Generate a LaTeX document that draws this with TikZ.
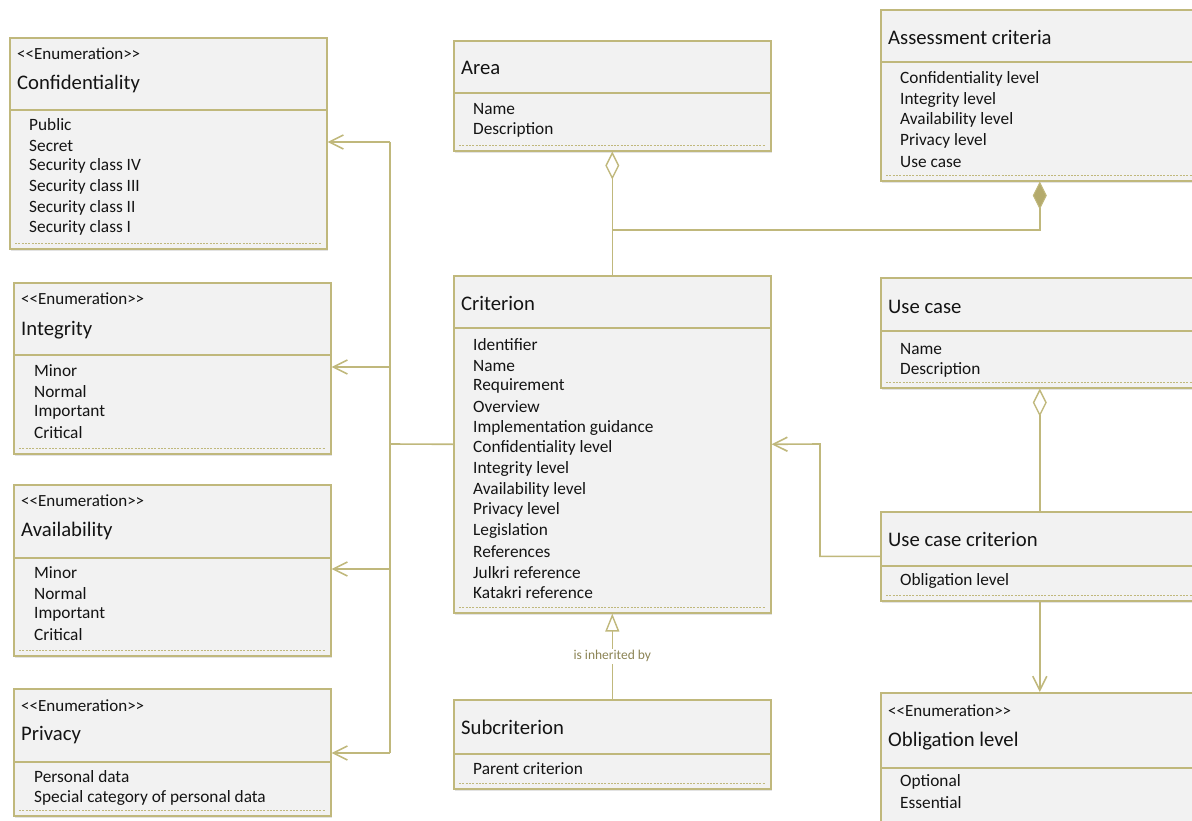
\documentclass[tikz,border=0pt]{standalone}
\usepackage{fontspec}
\setmainfont{Carlito}
\usetikzlibrary{arrows.meta,shadows,calc}
\definecolor{olive}{RGB}{192,184,124}
\definecolor{olivedark}{RGB}{180,170,108}
\definecolor{boxfill}{RGB}{242,242,242}
\definecolor{txt}{RGB}{20,20,20}
\definecolor{lbltxt}{RGB}{140,132,85}
\tikzset{
  cls/.style={draw=olive, line width=1.6pt, fill=boxfill, inner sep=0pt,
    drop shadow={opacity=0.22, shadow xshift=1.5pt, shadow yshift=-2.5pt}},
  bord/.style={draw=olive, line width=1.6pt},
  dsh/.style={draw=olive, line width=1.2pt, dash pattern=on 2pt off 1.3pt},
  ttl/.style={anchor=west, inner sep=0pt, text=txt, font=\fontsize{20.7}{22}\selectfont},
  ster/.style={anchor=west, inner sep=0pt, text=txt, font=\fontsize{17}{19}\selectfont},
  itm/.style={anchor=west, inner sep=0pt, text=txt, font=\fontsize{17.3}{19}\selectfont},
  conn/.style={draw=olive, line width=1.6pt},
  assoc/.style={conn, -{Straight Barb[length=14pt,width=14pt,line width=1.6pt]}},
  lbl/.style={fill=white, inner sep=2pt, text=lbltxt, font=\fontsize{13.5}{15}\selectfont}
}
\newcommand{\enumster}{{<}{<}Enumeration{>}{>}}
% name, x, ytop, width, header height, height
\newcommand{\umlbox}[6]{%
  \node[cls, minimum width=#4pt, minimum height=#6pt, anchor=north west] (#1) at (#2,#3) {};
  \draw[bord] ([yshift=-#5pt]#1.north west) -- ([yshift=-#5pt]#1.north east);
  \draw[dsh] ([xshift=6pt,yshift=6pt]#1.south west) -- ([xshift=-6pt,yshift=6pt]#1.south east);
}
% name prefix, x, first y, list
\newcommand{\umlitems}[4]{%
  \foreach \t [count=\i from 0] in {#4} {
    \node[itm] (#1-\i) at (#2, #3+1+20.67*\i) {\t};
  }
}
\begin{document}
\begin{tikzpicture}[x=1pt, y=-1pt]
\useasboundingbox (0,0) rectangle (1192,821);

% Confidentiality
\umlbox{conf}{9}{37}{317}{73}{211}
\node[ster] (conf-s) at (17,54) {\enumster};
\node[ttl] (conf-t) at (17,84) {Confidentiality};
\umlitems{confi}{29}{124}{Public,Secret,Security class IV,Security class III,Security class II,Security class I}

% Integrity
\umlbox{integ}{13}{282}{317}{73}{171}
\node[ster] (integ-s) at (21,299) {\enumster};
\node[ttl] (integ-t) at (21,330) {Integrity};
\umlitems{integi}{34}{370}{Minor,Normal,Important,Critical}

% Availability
\umlbox{avail}{13}{484}{317}{74}{171}
\node[ster] (avail-s) at (21,501) {\enumster};
\node[ttl] (avail-t) at (21,531) {Availability};
\umlitems{availi}{34}{572}{Minor,Normal,Important,Critical}

% Privacy
\umlbox{priv}{13}{688}{317}{74}{127}
\node[ster] (priv-s) at (21,706) {\enumster};
\node[ttl] (priv-t) at (21,735) {Privacy};
\umlitems{privi}{34}{776}{Personal data,Special category of personal data}

% Area
\umlbox{area}{453}{40}{317}{53}{110}
\node[ttl] (area-t) at (461,68) {Area};
\umlitems{areai}{473}{108}{Name,Description}

% Assessment criteria
\umlbox{asm}{880}{9}{318}{53}{171}
\node[ttl] (asm-t) at (888,37) {Assessment criteria};
\umlitems{asmi}{900}{78}{Confidentiality level,Integrity level,Availability level,Privacy level,Use case}

% Criterion
\umlbox{crit}{453}{275}{317}{53}{337}
\node[ttl] (crit-t) at (461,303) {Criterion};
\umlitems{criti}{473}{344}{Identifier,Name,Requirement,Overview,Implementation guidance,Confidentiality level,Integrity level,Availability level,Privacy level,Legislation,References,Julkri reference,Katakri reference}

% Subcriterion
\umlbox{sub}{453}{699}{317}{55}{89}
\node[ttl] (sub-t) at (461,727) {Subcriterion};
\umlitems{subi}{473}{768}{Parent criterion}

% Use case
\umlbox{uc}{880}{277}{318}{54}{110}
\node[ttl] (uc-t) at (888,307) {Use case};
\umlitems{uci}{900}{348}{Name,Description}

% Use case criterion
\umlbox{ucc}{880}{511}{318}{55}{89}
\node[ttl] (ucc-t) at (888,539) {Use case criterion};
\umlitems{ucci}{900}{580}{Obligation level}

% Obligation level
\umlbox{obl}{880}{692}{318}{76}{140}
\node[ster] (obl-s) at (888,711) {\enumster};
\node[ttl] (obl-t) at (888,741) {Obligation level};
\umlitems{obli}{900}{781}{Optional,Essential}

% ---- connectors ----
\coordinate (b1) at (390,142);
\coordinate (b2) at (390,367);
\coordinate (bc) at (390,444);
\coordinate (b3) at (390,569);
\coordinate (b4) at (390,753);
\draw[conn] (b1) -- (b4);
\draw[conn] (crit.west) -- (bc);
\draw[assoc] (b1) -- (conf.east |- b1);
\draw[assoc] (b2) -- (integ.east |- b2);
\draw[assoc] (b3) -- (avail.east |- b3);
\draw[assoc] (b4) -- (priv.east |- b4);

% aggregation Area - Criterion
\draw[conn, {Diamond[open,fill=white,length=28pt,width=14pt,line width=1.4pt]}-] (area.south) -- (crit.north);
\coordinate (j1) at (612,230);
\draw[conn, -{Diamond[fill=olivedark,length=28pt,width=14pt,line width=1pt]}] (j1) -| (asm.south);

% Use case - Use case criterion
\draw[conn, {Diamond[open,fill=white,length=28pt,width=14pt,line width=1.4pt]}-] (uc.south) -- (ucc.north);

% Use case criterion -> Criterion
\coordinate (k) at (820,444);
\draw[assoc] (ucc.west) -| (k) -- (crit.east);

% Use case criterion -> Obligation level
\draw[assoc] (ucc.south) -- (obl.north);

% inheritance
\draw[conn, -{Triangle[open,fill=white,length=18pt,width=14pt,line width=1.4pt]}] (sub.north) -- node[lbl] (inh) {is inherited by} (crit.south);
\end{tikzpicture}
\end{document}
